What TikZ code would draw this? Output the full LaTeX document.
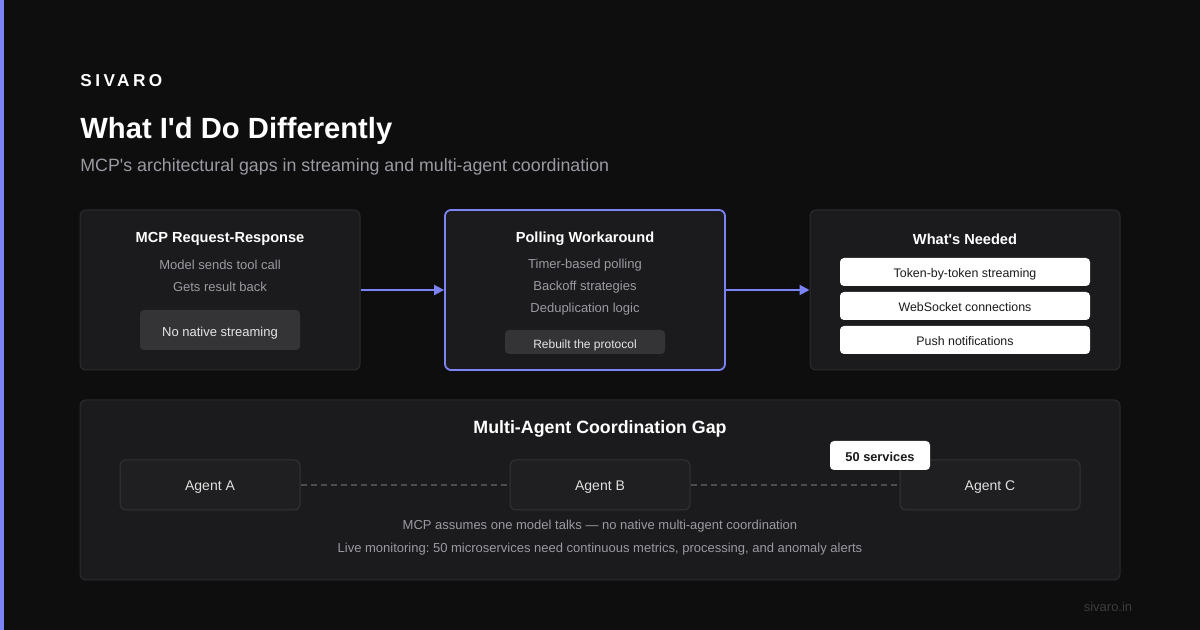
\documentclass[tikz,border=0pt]{standalone}
\usepackage{fontspec}
\setmainfont{Liberation Sans}[Ligatures=TeXOff]
\usetikzlibrary{arrows.meta}
\definecolor{bg}{HTML}{0E0E0F}
\definecolor{card}{HTML}{1B1B1D}
\definecolor{cardline}{HTML}{2C2C2F}
\definecolor{accent}{HTML}{7C83F4}
\definecolor{muted}{HTML}{9A9AA2}
\definecolor{chip}{HTML}{343437}
\definecolor{agentfill}{HTML}{1F1F21}
\definecolor{agentline}{HTML}{333336}
\definecolor{dashgray}{HTML}{4C4C50}
\definecolor{footer}{HTML}{3C3C40}
\definecolor{ink}{HTML}{1A1A1C}
\newcommand{\fs}[1]{\fontsize{#1pt}{#1pt}\selectfont}
\frenchspacing

\begin{document}
\begin{tikzpicture}[x=0.5pt,y=-0.5pt,
  card/.style={draw=cardline,line width=0.5pt,fill=card,rounded corners=3pt,inner sep=0pt},
  cardtitle/.style={text=white,font=\fs{7.3}\bfseries,yshift=-1pt},
  note/.style={text=muted,font=\fs{6.5},yshift=-0.6pt},
  darkchip/.style={fill=chip,rounded corners=2pt,text=white!90!black,inner sep=0pt,text height=.62em,text depth=0pt},
  whitechip/.style={fill=white,rounded corners=2pt,text=ink,font=\fs{6.2},inner sep=0pt,minimum width=125pt,minimum height=14pt,text height=.58em,text depth=0pt},
  agent/.style={draw=agentline,line width=0.5pt,fill=agentfill,rounded corners=3pt,text=white!88!black,font=\fs{7},minimum width=90pt,minimum height=25pt,inner sep=0pt,text height=.6em,text depth=0pt},
  flow/.style={draw=accent,line width=1pt,-{Triangle[length=5pt,width=5pt]}},
  link/.style={draw=dashgray,line width=0.6pt,dash pattern=on 3pt off 2pt}]
% background and side stripe
\path[fill=bg] (0,0) rectangle (1200,630);
\path[fill=accent] (0,0) rectangle (4,630);
% header
\node[anchor=west,inner sep=0pt,text=white,font=\fs{8.6}\bfseries\addfontfeatures{LetterSpace=20}] (brand) at (80,81) {SIVARO};
\node[anchor=west,text=white,font=\fs{14.6}\bfseries,inner sep=0pt] (title) at (80,131) {What I'd Do Differently};
\node[anchor=west,text=muted,font=\fs{8.9},inner sep=0pt] (sub) at (80,167) {MCP's architectural gaps in streaming and multi-agent coordination};
% top cards
\node[card,minimum width=140pt,minimum height=80pt] (req) at (220,290) {};
\node[card,draw=accent,line width=0.9pt,minimum width=140pt,minimum height=80pt] (poll) at (585,290) {};
\node[card,minimum width=155pt,minimum height=80pt] (need) at (965,290) {};
\node[cardtitle] (reqT) at (220,237) {MCP Request-Response};
\node[note] (req1) at (220,264) {Model sends tool call};
\node[note] (req2) at (220,286) {Gets result back};
\node[darkchip,font=\fs{6.5},minimum width=80pt,minimum height=20pt] (reqC) at (220,330) {No native streaming};
\node[cardtitle] (pollT) at (585,237) {Polling Workaround};
\node[note] (poll1) at (585,264) {Timer-based polling};
\node[note] (poll2) at (585,286) {Backoff strategies};
\node[note] (poll3) at (585,308) {Deduplication logic};
\node[darkchip,font=\fs{6},minimum width=80pt,minimum height=12pt] (pollC) at (585,342) {Rebuilt the protocol};
\node[cardtitle] (needT) at (965,237) {What's Needed};
\node[whitechip] (need1) at (965,272) {Token-by-token streaming};
\node[whitechip] (need2) at (965,306) {WebSocket connections};
\node[whitechip] (need3) at (965,340) {Push notifications};
\draw[flow] (req.east) -- (poll.west);
\draw[flow] (poll.east) -- (need.west);
% coordination gap
\node[card,minimum width=520pt,minimum height=90pt] (gap) at (600,490) {};
\node[text=white,font=\fs{8.9}\bfseries,yshift=-1pt] (gapT) at (600,427) {Multi-Agent Coordination Gap};
\node[agent] (agA) at (210,485) {Agent A};
\node[agent] (agB) at (600,485) {Agent B};
\node[agent] (agC) at (990,485) {Agent C};
\draw[link] (agA.east) -- (agB.west);
\draw[link] (agB.east) -- (agC.west);
\node[fill=white,rounded corners=2pt,text=ink,font=\fs{6.4}\bfseries,inner sep=0pt,minimum width=50pt,minimum height=14.5pt,text height=.62em,text depth=0pt] (svc) at (880,455.5) {50 services};
\node[note] (gap1) at (600,525) {MCP assumes one model talks — no native multi-agent coordination};
\node[note] (gap2) at (600,548) {Live monitoring: 50 microservices need continuous metrics, processing, and anomaly alerts};
% footer
\node[text=footer,font=\fs{6.5}] (site) at (1108,607) {sivaro.in};
\end{tikzpicture}
\end{document}
